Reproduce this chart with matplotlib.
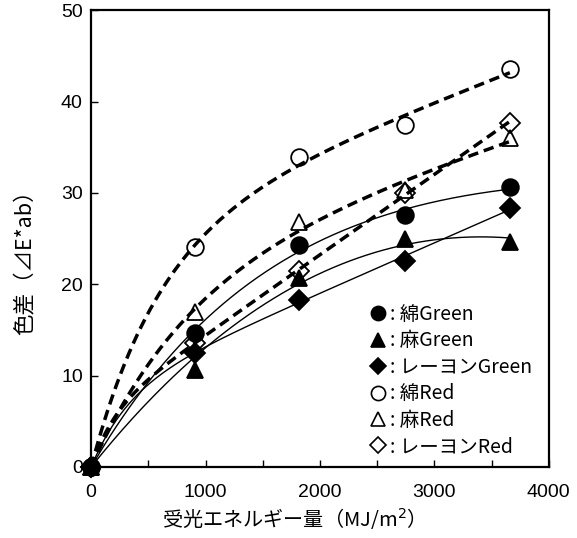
import matplotlib
matplotlib.use('Agg')
import matplotlib.pyplot as plt
from matplotlib.lines import Line2D
import numpy as np

jp_font = ['Noto Sans CJK JP', 'DejaVu Sans']
plt.rcParams['font.family'] = ['Liberation Sans', 'DejaVu Sans']

# 受光エネルギー量 (MJ/m2)
energy = [0, 910, 1820, 2740, 3660]

# 色差 ΔE*ab
men_green = [0, 14.7, 24.3, 27.6, 30.6]
asa_green = [0, 10.6, 20.7, 25.0, 24.6]
rayon_green = [0, 12.5, 18.3, 22.6, 28.4]
men_red = [0, 24.1, 33.9, 37.4, 43.6]
asa_red = [0, 17.0, 26.8, 30.3, 36.0]
rayon_red = [0, 13.6, 21.5, 30.0, 37.7]

labels = [': 綿Green', ': 麻Green', ': レーヨンGreen', ': 綿Red', ': 麻Red', ': レーヨンRed']


def fit_curve(x, y):
    # y = a*(1-exp(-b*x)) + c*x  (b: grid search, a/c: least squares)
    x = np.array(x) / 1000.0
    y = np.array(y)
    best = None
    for b in np.linspace(0.1, 5, 2000):
        A = np.column_stack([1 - np.exp(-b * x), x])
        coef, *_ = np.linalg.lstsq(A, y, rcond=None)
        err = ((A @ coef - y) ** 2).sum()
        if best is None or err < best[0]:
            best = (err, b, coef)
    _, b, (a, c) = best
    xs = np.linspace(0, x.max(), 200)
    return xs * 1000, a * (1 - np.exp(-b * xs)) + c * xs


fig = plt.figure(figsize=(5.77, 5.38), dpi=100)
ax = fig.add_axes([0.158, 0.132, 0.793, 0.849])

series = [
    (men_green, 'o', True, '-'),
    (asa_green, '^', True, '-'),
    (rayon_green, 'D', True, '-'),
    (men_red, 'o', False, '--'),
    (asa_red, '^', False, '--'),
    (rayon_red, 'D', False, '--'),
]

handles = []
for (vals, mk, filled, ls), lab in zip(series, labels):
    xs, ys = fit_curve(energy, vals)
    if ls == '-':
        ax.plot(xs, ys, color='black', lw=1.0, zorder=2)
    else:
        ax.plot(xs, ys, color='black', lw=2.5, dashes=(3.0, 1.7), zorder=2)
    ms = 12 if mk != 'D' else 10
    ax.plot(energy, vals, linestyle='none', marker=mk, markersize=ms,
            markerfacecolor='black' if filled else 'none',
            markeredgecolor='black', markeredgewidth=1.3, zorder=3, clip_on=False)
    handles.append(Line2D([], [], linestyle='none', marker=mk, markersize=ms * 0.85,
                          markerfacecolor='black' if filled else 'none',
                          markeredgecolor='black', markeredgewidth=1.2, label=lab))

ax.set_xlim(0, 4000)
ax.set_ylim(0, 50)
ax.set_xticks([0, 1000, 2000, 3000, 4000])
ax.set_xticks(np.arange(0, 4001, 500), minor=True)
ax.set_yticks([0, 10, 20, 30, 40, 50])
ax.tick_params(direction='in', which='both', length=5, width=1, labelsize=14, pad=6)
ax.tick_params(axis='x', which='major', pad=12)
for sp in ax.spines.values():
    sp.set_linewidth(1.6)

ax.set_xlabel('受光エネルギー量（MJ/m$^2$）', fontsize=14.5, family=jp_font)
ax.xaxis.set_label_coords(0.43, -0.085)
ax.set_ylabel('色差（⊿E*ab）', fontsize=15.5, family=jp_font)
ax.yaxis.set_label_coords(-0.12, 0.46)

ax.legend(handles=handles, loc='lower right', bbox_to_anchor=(1.002, -0.017), frameon=False,
          handlelength=0.8, handletextpad=0.2, labelspacing=0.28,
          prop={'family': jp_font, 'size': 14})

fig.savefig('out.png', dpi=100)
